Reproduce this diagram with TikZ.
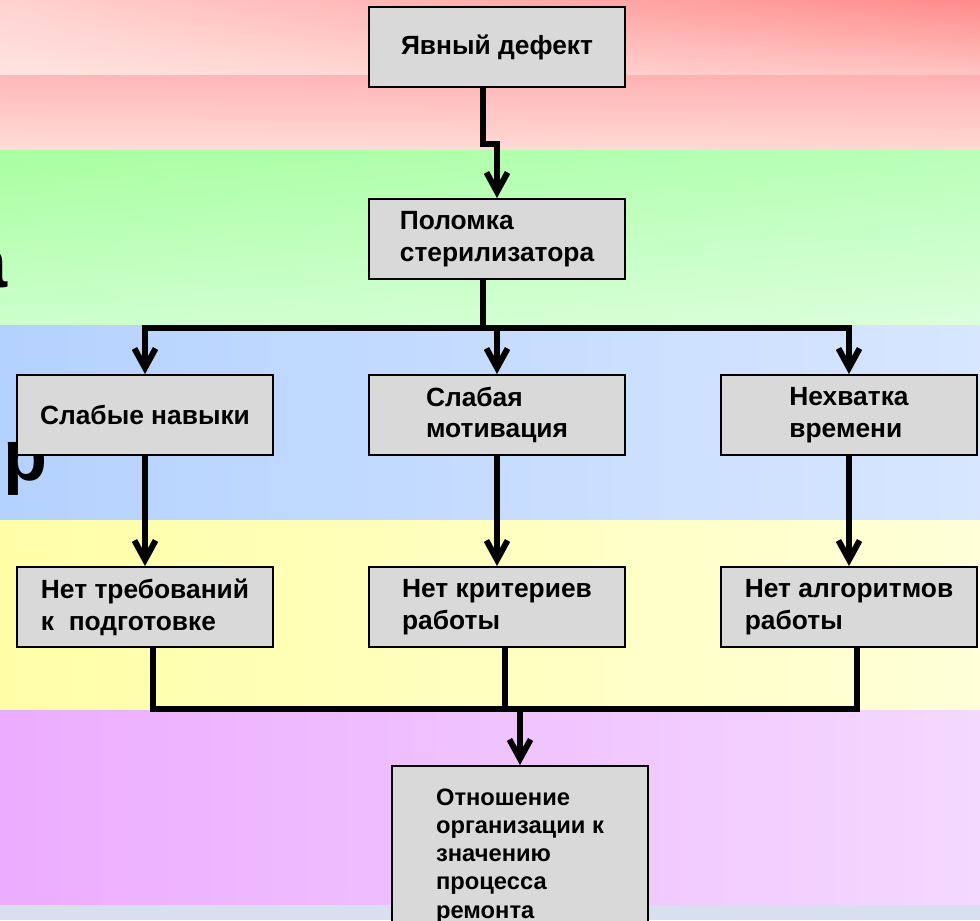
\documentclass[tikz,border=0pt]{standalone}
\usepackage{fontspec}
\setmainfont{Liberation Sans}
\usetikzlibrary{positioning, arrows.meta, calc, shadings}
\definecolor{boxgray}{RGB}{217,217,217}
\definecolor{pinkA}{RGB}{255,210,208}
\definecolor{pinkB}{RGB}{255,138,138}
\definecolor{pinkC}{RGB}{255,228,224}
\definecolor{pinkD}{RGB}{255,196,194}
\definecolor{pinkE}{RGB}{255,184,184}
\definecolor{pinkF}{RGB}{255,176,176}
\definecolor{pinkG}{RGB}{255,220,216}
\definecolor{pinkH}{RGB}{255,216,212}
\definecolor{greenA}{RGB}{168,255,160}
\definecolor{greenB}{RGB}{184,255,184}
\definecolor{greenC}{RGB}{204,255,204}
\definecolor{greenD}{RGB}{220,255,220}
\definecolor{blueA}{RGB}{180,210,255}
\definecolor{blueB}{RGB}{216,230,255}
\definecolor{yellA}{RGB}{255,255,168}
\definecolor{yellB}{RGB}{255,255,216}
\definecolor{purpA}{RGB}{236,172,255}
\definecolor{purpB}{RGB}{244,216,255}
\definecolor{greyblue}{RGB}{216,224,240}
\tikzset{
    causebox/.style={rectangle, draw=black, fill=boxgray, line width=1.1pt, minimum width=5.12cm, minimum height=1.6cm, align=left, font=\fontsize{15}{18}\selectfont\bfseries, inner sep=2pt},
    rootbox/.style={rectangle, draw=black, fill=boxgray, line width=1.1pt, minimum width=5.12cm, minimum height=3.6cm, align=left, anchor=north, font=\fontsize{13.5}{16}\selectfont\bfseries, inner xsep=2pt, inner ysep=8pt},
    bgletter/.style={font=\fontsize{41}{41}\selectfont\bfseries, inner sep=0pt},
    arr/.style={-{Straight Barb[length=11pt,width=12pt]}, line width=3.4pt},
    lnk/.style={line width=3.4pt}
}

\begin{document}
\begin{tikzpicture}[x=0.02cm, y=-0.02cm]
        \useasboundingbox (0,0) rectangle (980,920);
        \shade[upper left=pinkA, upper right=pinkB, lower left=pinkC, lower right=pinkD] (0,0) rectangle (980,75);
        \shade[upper left=pinkE, upper right=pinkF, lower left=pinkG, lower right=pinkH] (0,75) rectangle (980,150);
        \shade[upper left=greenA, upper right=greenB, lower left=greenC, lower right=greenD] (0,150) rectangle (980,325);
        \shade[left color=blueA, right color=blueB] (0,325) rectangle (980,520);
        \shade[left color=yellA, right color=yellB] (0,520) rectangle (980,710);
        \shade[left color=purpA, right color=purpB] (0,710) rectangle (980,905);
        \fill[greyblue] (0,905) rectangle (980,920);

        \node[bgletter, anchor=base west] (ltra) at (-33,287) {а};
        \node[bgletter, anchor=base west] (ltrr) at (3,480) {р};

        \node[causebox] (defect) at (497,47)  {Явный дефект};
        \node[causebox] (break)  at (497,239) {Поломка\\стерилизатора};
        \node[causebox] (skill)  at (145,415) {Слабые навыки};
        \node[causebox] (motiv)  at (497,415) {Слабая\\мотивация};
        \node[causebox] (time)   at (849,415) {Нехватка\\времени};
        \node[causebox] (noreq)  at (145,607) {Нет требований\\к\ \ подготовке};
        \node[causebox] (nocrit) at (497,607) {Нет критериев\\работы};
        \node[causebox] (noalg)  at (849,607) {Нет алгоритмов\\работы};
        \node[rootbox]  (attit)  at (520,765) {Отношение\\организации к\\значению\\процесса\\ремонта};

        \draw[arr] ($(defect.south)+(-14,0)$) -- ++(0,56) -| (break.north);
        \draw[lnk] ($(break.south)+(-14,0)$) -- ++(0,48) coordinate (bus1);
        \draw[arr] (bus1) -| (skill.north);
        \draw[arr] (bus1) -| (time.north);
        \draw[arr] (bus1) -| (motiv.north);
        \draw[arr] (skill.south) -- (noreq.north);
        \draw[arr] (motiv.south) -- (nocrit.north);
        \draw[arr] (time.south) -- (noalg.north);
        \draw[lnk] ($(noreq.south)+(8,0)$) |- ($(noalg.south)+(8,61)$) coordinate (bus2) -- ($(noalg.south)+(8,0)$);
        \draw[lnk] ($(nocrit.south)+(8,0)$) -- ($(nocrit.south)+(8,61)$);
        \draw[arr] (attit.north |- bus2) -- (attit.north);
\end{tikzpicture}
\end{document}
